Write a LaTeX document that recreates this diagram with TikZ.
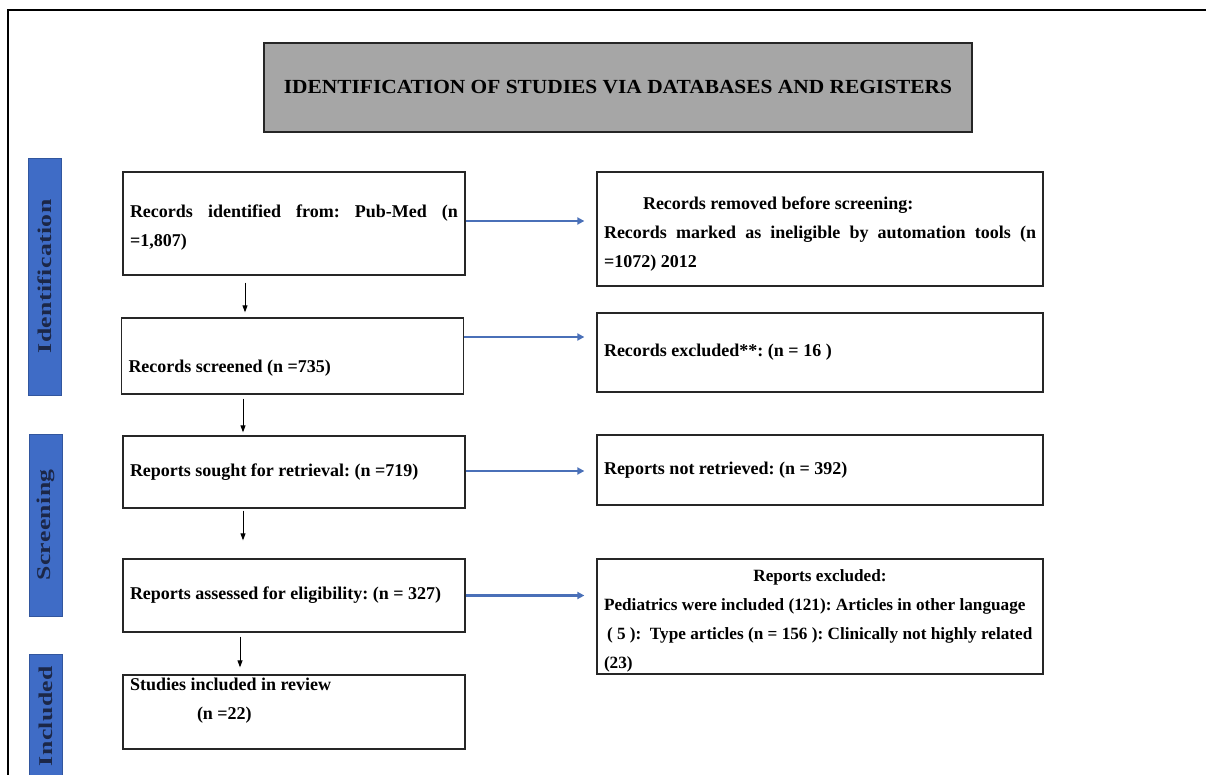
\documentclass[tikz,border=0pt]{standalone}
\usepackage{fontspec}
\setmainfont{Liberation Serif}
\newfontfamily\headfont{Liberation Serif}[FakeStretch=1.07]
\newfontfamily\barfont{Liberation Serif}[FakeStretch=1.32,LetterSpace=2]
\usetikzlibrary{arrows.meta}
\definecolor{barblue}{HTML}{3F6CC6}
\definecolor{arrowblue}{HTML}{4A70B8}
\definecolor{headgray}{HTML}{A6A6A6}
\definecolor{bartext}{HTML}{1C2747}
\tikzset{
  flowbox/.style={draw=black!85, line width=1.3pt, inner xsep=7pt, inner ysep=0pt,
    font=\fontsize{18}{29}\selectfont\bfseries, align=justify},
  leftbox/.style={flowbox, minimum width=342pt, text width=328pt},
  rightbox/.style={flowbox, minimum width=446pt, text width=432pt},
  phasebar/.style={draw=barblue!80!black, fill=barblue, minimum height=33pt, rotate=90,
    text=bartext, font=\barfont\fontsize{19.5}{20}\selectfont\bfseries},
  blueflow/.style={draw=arrowblue, line width=2.5pt, -{Triangle[length=7pt,width=7pt]}, shorten >=12pt},
  downflow/.style={draw=black, line width=1pt, -{Triangle[length=7pt,width=5pt]}}
}
\begin{document}
\frenchspacing
\hyphenpenalty=10000
\begin{tikzpicture}[x=1pt,y=-1pt]
\useasboundingbox (0,0) rectangle (1206,775);
\draw[line width=1.5pt] (1206,10) -- (8,10) -- (8,775);

% header
\node[draw=black!85, line width=1.3pt, fill=headgray, minimum width=708pt, minimum height=89pt,
  font=\headfont\fontsize{20}{24}\selectfont\bfseries] (head) at (618,87.5)
  {IDENTIFICATION OF STUDIES VIA DATABASES AND REGISTERS};

% phases
\node[phasebar, minimum width=237pt] (identification) at (45,276.5) {Identification};
\node[phasebar, minimum width=182pt] (screening) at (45.5,525) {Screening};
\node[phasebar, minimum width=124pt] (included) at (45.5,716) {Included};

% main column
\node[leftbox, minimum height=103pt] (b1) at (294,223.5)
  {\mbox{}\\[-8pt]Records identified from: Pub-Med (n\linebreak =1,807)};
\node[leftbox, minimum height=76pt] (b2) at (292.5,356)
  {\mbox{}\\[8pt]Records screened (n =735)};
\node[leftbox, minimum height=72pt] (b3) at (294,472)
  {Reports sought for retrieval: (n =719)};
\node[leftbox, minimum height=73pt] (b4) at (294,595.5)
  {Reports assessed for eligibility: (n = 327)};
\node[leftbox, minimum height=74pt] (b5) at (294,712)
  {Studies included in review\\\hspace*{67pt}(n =22)\\[-3pt]\mbox{}};

% side column
\node[rightbox, minimum height=114pt] (r1) at (820,229)
  {\mbox{}\\[-6pt]\hspace*{39pt}Records removed before screening:\\
   Records marked as ineligible by automation tools (n\linebreak =1072) 2012};
\node[rightbox, minimum height=79pt] (r2) at (820,352.5)
  {Records excluded**: (n = 16 )};
\node[rightbox, minimum height=70pt] (r3) at (820,470)
  {Reports not retrieved: (n = 392)};
\node[rightbox, minimum height=115pt, font=\fontsize{17.2}{29}\selectfont\bfseries] (r4) at (820,616.5)
  {\mbox{}\\[-8pt]\hspace*{\fill}Reports excluded:\hspace*{\fill}\mbox{}\\
   \mbox{Pediatrics were included (121): Articles in other language}\\
   \mbox{\hspace*{3pt}( 5 ):~ Type articles (n = 156 ): Clinically not highly related}\\
   (23)};

% side arrows
\path (b1.east) ++(0,-2.5) coordinate (s1);
\path (b2.east) ++(0,-19) coordinate (s2);
\path (b3.east) ++(0,-1) coordinate (s3);
\path (b4.east) coordinate (s4);
\draw[blueflow] (s1) -- (s1 -| r1.west);
\draw[blueflow] (s2) -- (s2 -| r2.west);
\draw[blueflow] (s3) -- (s3 -| r3.west);
\draw[blueflow] (s4) -- (s4 -| r4.west);

% down arrows
\path (b1.south) ++(-49,0) coordinate (d1);
\path (b2.south) ++(-49.5,0) coordinate (d2);
\path (b3.south) ++(-51,0) coordinate (d3);
\path (b4.south) ++(-54,0) coordinate (d4);
\draw[downflow, shorten <=7pt, shorten >=5pt] (d1) -- (d1 |- b2.north);
\draw[downflow, shorten <=4pt, shorten >=3pt] (d2) -- (d2 |- b3.north);
\draw[downflow, shorten <=2pt, shorten >=18pt] (d3) -- (d3 |- b4.north);
\draw[downflow, shorten <=4pt, shorten >=7pt] (d4) -- (d4 |- b5.north);
\end{tikzpicture}
\end{document}
